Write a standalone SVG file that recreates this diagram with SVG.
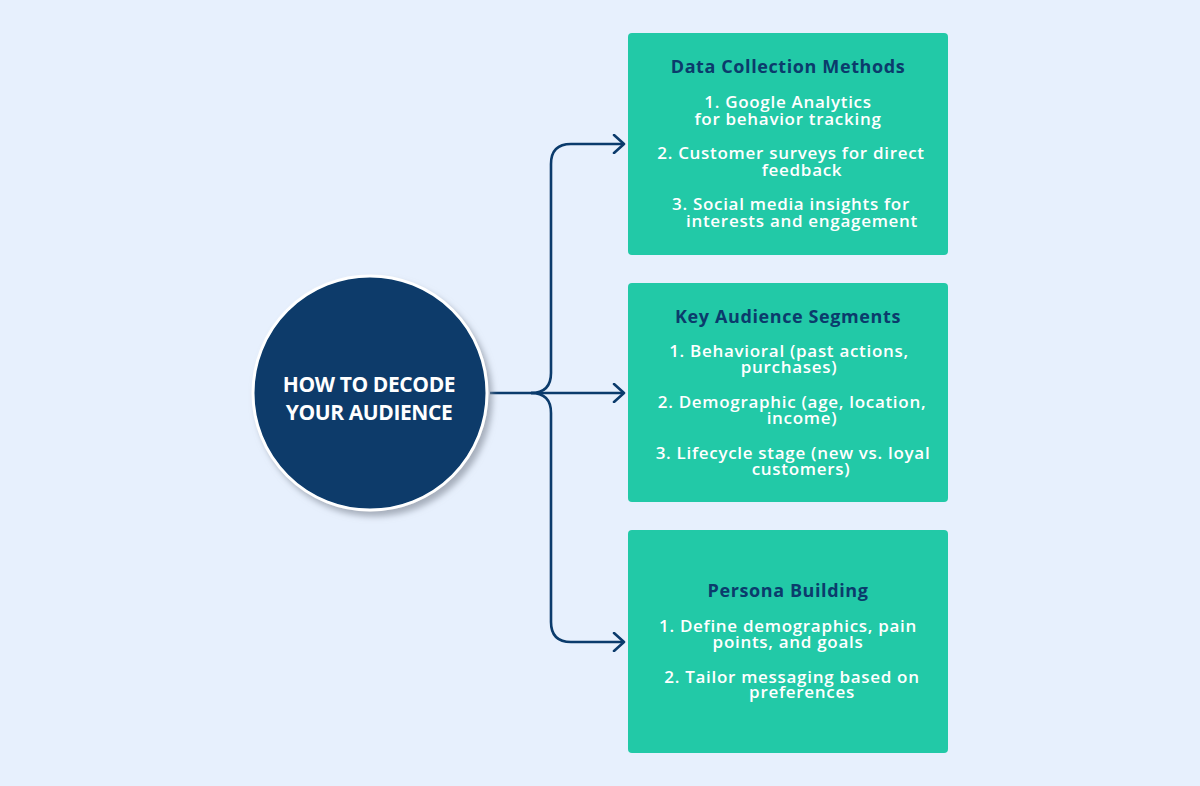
<svg xmlns="http://www.w3.org/2000/svg" width="1200" height="786" viewBox="0 0 1200 786">
<defs>
<filter id="sh" x="-20%" y="-20%" width="150%" height="150%">
<feDropShadow dx="4" dy="5" stdDeviation="3" flood-color="#8a93a0" flood-opacity="0.7"/>
</filter>
<marker id="arr" markerWidth="14" markerHeight="20" refX="12" refY="10" orient="auto" markerUnits="userSpaceOnUse">
<path d="M2,1 L12,10 L2,19" fill="none" stroke="#0B3B6C" stroke-width="2.6" stroke-linecap="round" stroke-linejoin="round"/>
</marker>
</defs>
<style>
.box{fill:#22C9A7}
.ttl{font-family:"Open Sans","Liberation Sans",sans-serif;font-weight:700;font-size:18px;fill:#0B3B6C;text-anchor:middle;letter-spacing:0.6px}
.itm{font-family:"Open Sans","Liberation Sans",sans-serif;font-weight:600;font-size:17px;fill:#FFFFFF;text-anchor:middle;letter-spacing:0.7px}
.ctr{font-family:"Open Sans","Liberation Sans",sans-serif;font-weight:700;font-size:21px;fill:#FFFFFF;text-anchor:middle;letter-spacing:-0.4px}
.ln{fill:none;stroke:#0B3B6C;stroke-width:2.6}
</style>
<rect width="1200" height="786" fill="#E7F0FD"/>
<g id="connectors">
<path class="ln" d="M490,393 L624,393" marker-end="url(#arr)"/>
<path class="ln" d="M531,393 Q551,393 551,373 L551,164 Q551,144 571,144 L624,144" marker-end="url(#arr)"/>
<path class="ln" d="M531,393 Q551,393 551,413 L551,622 Q551,642 571,642 L624,642" marker-end="url(#arr)"/>
</g>
<g id="center">
<circle cx="370" cy="393" r="117" fill="#083A6B" stroke="#FFFFFF" stroke-width="3" filter="url(#sh)"/>
<text class="ctr" x="369" y="392">HOW TO DECODE</text>
<text class="ctr" x="369" y="420">YOUR AUDIENCE</text>
</g>
<g id="data-collection">
<rect class="box" x="628" y="33" width="320" height="222" rx="4"/>
<text class="ttl" x="788" y="73">Data Collection Methods</text>
<text class="itm" x="788" y="108">1. Google Analytics</text>
<text class="itm" x="788" y="125">for behavior tracking</text>
<text class="itm" x="791" y="159">2. Customer surveys for direct</text>
<text class="itm" x="802" y="176">feedback</text>
<text class="itm" x="791" y="210">3. Social media insights for</text>
<text class="itm" x="802" y="227">interests and engagement</text>
</g>
<g id="audience-segments">
<rect class="box" x="628" y="283" width="320" height="219" rx="4"/>
<text class="ttl" x="788" y="323">Key Audience Segments</text>
<text class="itm" x="789" y="357">1. Behavioral (past actions,</text>
<text class="itm" x="789" y="373">purchases)</text>
<text class="itm" x="792" y="408">2. Demographic (age, location,</text>
<text class="itm" x="802" y="424">income)</text>
<text class="itm" x="793" y="459">3. Lifecycle stage (new vs. loyal</text>
<text class="itm" x="801" y="475">customers)</text>
</g>
<g id="persona-building">
<rect class="box" x="628" y="530" width="320" height="223" rx="4"/>
<text class="ttl" x="788" y="597">Persona Building</text>
<text class="itm" x="788" y="632">1. Define demographics, pain</text>
<text class="itm" x="788" y="648">points, and goals</text>
<text class="itm" x="792" y="683">2. Tailor messaging based on</text>
<text class="itm" x="802" y="698">preferences</text>
</g>
</svg>
